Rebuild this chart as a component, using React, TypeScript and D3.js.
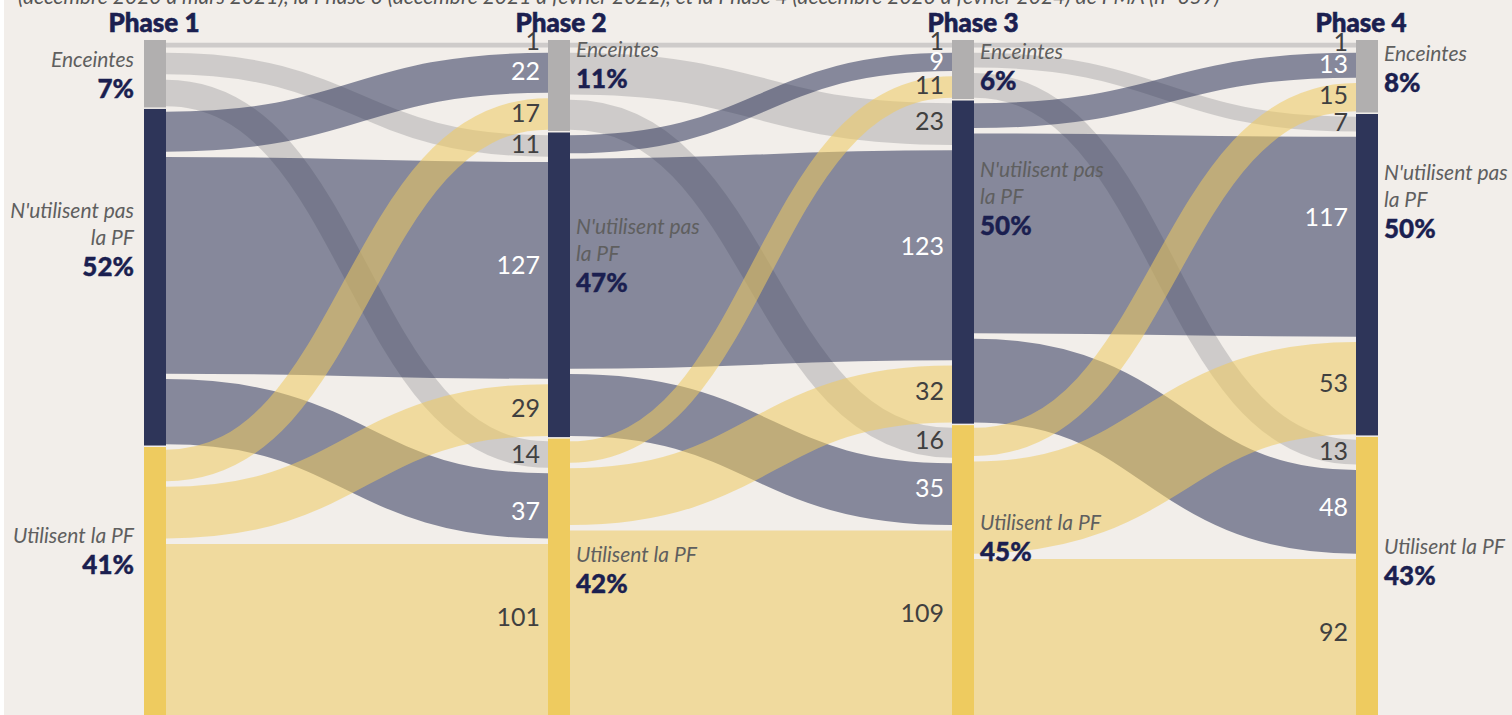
import React from 'react';
import * as d3 from 'd3';

// ---------- DATA ----------
const PHASES = ['Phase 1', 'Phase 2', 'Phase 3', 'Phase 4'];
const CATEGORY_LINES = [['Enceintes'], ["N'utilisent pas", 'la PF'], ['Utilisent la PF']];
const PERCENTS = [
  [7, 52, 41],
  [11, 47, 42],
  [6, 50, 45],
  [8, 50, 43],
];
// flows[source][target] : Enceintes, N'utilisent pas, Utilisent
const FLOWS_1_2 = [[1, 11, 14], [22, 127, 37], [17, 29, 101]];
const FLOWS_2_3 = [[1, 23, 16], [9, 123, 35], [11, 32, 109]];
const FLOWS_3_4 = [[1, 7, 13], [13, 117, 48], [15, 53, 92]];
const TRANSITIONS = [FLOWS_1_2, FLOWS_2_3, FLOWS_3_4];
const SUBTITLE =
  '(décembre 2020 à mars 2021), la Phase 3 (décembre 2021 à février 2022), et la Phase 4 (décembre 2023 à février 2024) de PMA (n=359)';

// ---------- LAYOUT / STYLE ----------
const W = 1512;
const H = 720;
const TOP = 40;
const COL_H = 679.5;
const NODE_W = 22;
const GAP = 8.4;
const BG = '#f2eeea';
const NODE_COLORS = ['#b1afaf', '#2e3559', '#eecb5f'];
const LINK_OPACITY = 0.55;
const NAVY_TEXT = '#1b1f50';
const FONT = 'Lato, "Open Sans", sans-serif';
// vertical anchor (fraction of node height) for the node label blocks
const LABEL_FRAC = [
  [0.49, 0.385, 0.38],
  [0.26, 0.4, 0.466],
  [0.44, 0.3, 0.38],
  [0.38, 0.27, 0.44],
];
// small vertical nudges of the flow value labels ([source][target])
const LABEL_NUDGE = [
  [[-3, -1, 0], [-1, -4, 6], [0, -1, -12]],
  [[-3, -2, -2], [0, -8, -5], [-1, -2, -10]],
  [[-2, -1, 0], [0, -19, -4], [-1, -4, -5]],
];
const TITLE_DX = [-1, 2, 10, -6];

export default function App() {
  const total = d3.sum(FLOWS_1_2.flat());
  const nLinks = 9;
  const k = (COL_H - nLinks * GAP) / total;
  const y = d3.scaleLinear().domain([0, total]).range([0, total * k]);
  const x = d3.scalePoint<string>().domain(PHASES).range([144, 1356]);

  const nodeValues = PHASES.map((_, p) => {
    if (p === 0) return TRANSITIONS[0].map((row) => d3.sum(row));
    const T = TRANSITIONS[p - 1];
    return [0, 1, 2].map((j) => d3.sum(T, (row) => row[j]));
  });

  const nodes = nodeValues.map((vals, p) => {
    let cursor = TOP;
    return vals.map((v, c) => {
      const h = y(v) + 3 * GAP;
      const n = { p, c, v, x0: x(PHASES[p])!, y0: cursor, h };
      cursor += h;
      return n;
    });
  });

  const links: any[] = [];
  TRANSITIONS.forEach((T, t) => {
    const srcY: number[][] = [[], [], []];
    const tgtY: number[][] = [[], [], []];
    for (let s = 0; s < 3; s++) {
      let cur = nodes[t][s].y0 + GAP / 2;
      for (let j = 0; j < 3; j++) {
        const w = y(T[s][j]);
        srcY[s][j] = cur + w / 2;
        cur += w + GAP;
      }
    }
    for (let j = 0; j < 3; j++) {
      let cur = nodes[t + 1][j].y0 + GAP / 2;
      for (let s = 0; s < 3; s++) {
        const w = y(T[s][j]);
        tgtY[s][j] = cur + w / 2;
        cur += w + GAP;
      }
    }
    for (let s = 0; s < 3; s++) {
      for (let j = 0; j < 3; j++) {
        const v = T[s][j];
        if (!v) continue;
        links.push({
          t,
          s,
          j,
          v,
          sx: nodes[t][s].x0 + NODE_W,
          sy: srcY[s][j],
          tx: nodes[t + 1][j].x0,
          ty: tgtY[s][j],
          w: y(v) + 3,
        });
      }
    }
  });

  const linkGen = d3
    .linkHorizontal<any, [number, number]>()
    .source((d: any) => [d.sx, d.sy])
    .target((d: any) => [d.tx, d.ty]);

  return (
    <div style={{ width: W, height: H, overflow: 'hidden' }}>
      <style>{`body{margin:0;background:#fff;}`}</style>
      <svg width={W} height={H} style={{ display: 'block', fontFamily: FONT }}>
        <rect x={4} y={0} width={W - 4} height={H} fill={BG} />
        <text x={18} y={4} fontSize={21} fontStyle="italic" fill="#555">
          {SUBTITLE}
        </text>

        {/* links */}
        <g fill="none">
          {links.map((l, i) => (
            <path
              key={i}
              d={linkGen(l) as string}
              stroke={NODE_COLORS[l.s]}
              strokeOpacity={LINK_OPACITY}
              strokeWidth={l.w}
            />
          ))}
        </g>

        {/* nodes */}
        <g>
          {nodes.flat().map((n, i) => (
            <rect
              key={i}
              x={n.x0}
              y={n.y0}
              width={NODE_W}
              height={Math.max(0, n.h - 1.5)}
              fill={NODE_COLORS[n.c]}
            />
          ))}
        </g>

        {/* flow value labels at target side */}
        <g fontSize={25}>
          {links.map((l, i) => (
            <text
              key={i}
              x={l.tx - 8}
              y={l.ty + 8 + LABEL_NUDGE[l.t][l.s][l.j]}
              textAnchor="end"
              fill={l.s === 1 ? '#ffffff' : '#404040'}
            >
              {l.v}
            </text>
          ))}
        </g>

        {/* phase titles */}
        <g>
          {PHASES.map((p, i) => (
            <text
              key={p}
              x={x(p)! + NODE_W / 2 + TITLE_DX[i]}
              y={32}
              textAnchor="middle"
              fontSize={26}
              fontWeight={900}
              fill={NAVY_TEXT}
              stroke={NAVY_TEXT}
              strokeWidth={0.6}
            >
              {p}
            </text>
          ))}
        </g>

        {/* node labels */}
        <g>
          {nodes.flat().map((n, i) => {
            const lines = CATEGORY_LINES[n.c];
            const m = lines.length;
            const lh = 27;
            const pctGap = 28.5;
            const blockCenter = n.y0 + LABEL_FRAC[n.p][n.c] * n.h;
            const start = blockCenter - ((m - 1) * lh + pctGap) / 2;
            const left = n.p === 0;
            const tx = left ? n.x0 - 10 : n.x0 + NODE_W + 6;
            const anchor = left ? 'end' : 'start';
            return (
              <g key={i}>
                {lines.map((ln, li) => (
                  <text
                    key={li}
                    x={tx}
                    y={start + li * lh + 7}
                    textAnchor={anchor}
                    fontSize={21}
                    fontStyle="italic"
                    fill="#5f5f5f"
                  >
                    {ln}
                  </text>
                ))}
                <text
                  x={tx}
                  y={start + (m - 1) * lh + pctGap + 9.5}
                  textAnchor={anchor}
                  fontSize={26}
                  fontWeight={900}
                  fill={NAVY_TEXT}
                  stroke={NAVY_TEXT}
                  strokeWidth={0.4}
                >
                  {PERCENTS[n.p][n.c]}%
                </text>
              </g>
            );
          })}
        </g>
      </svg>
    </div>
  );
}
